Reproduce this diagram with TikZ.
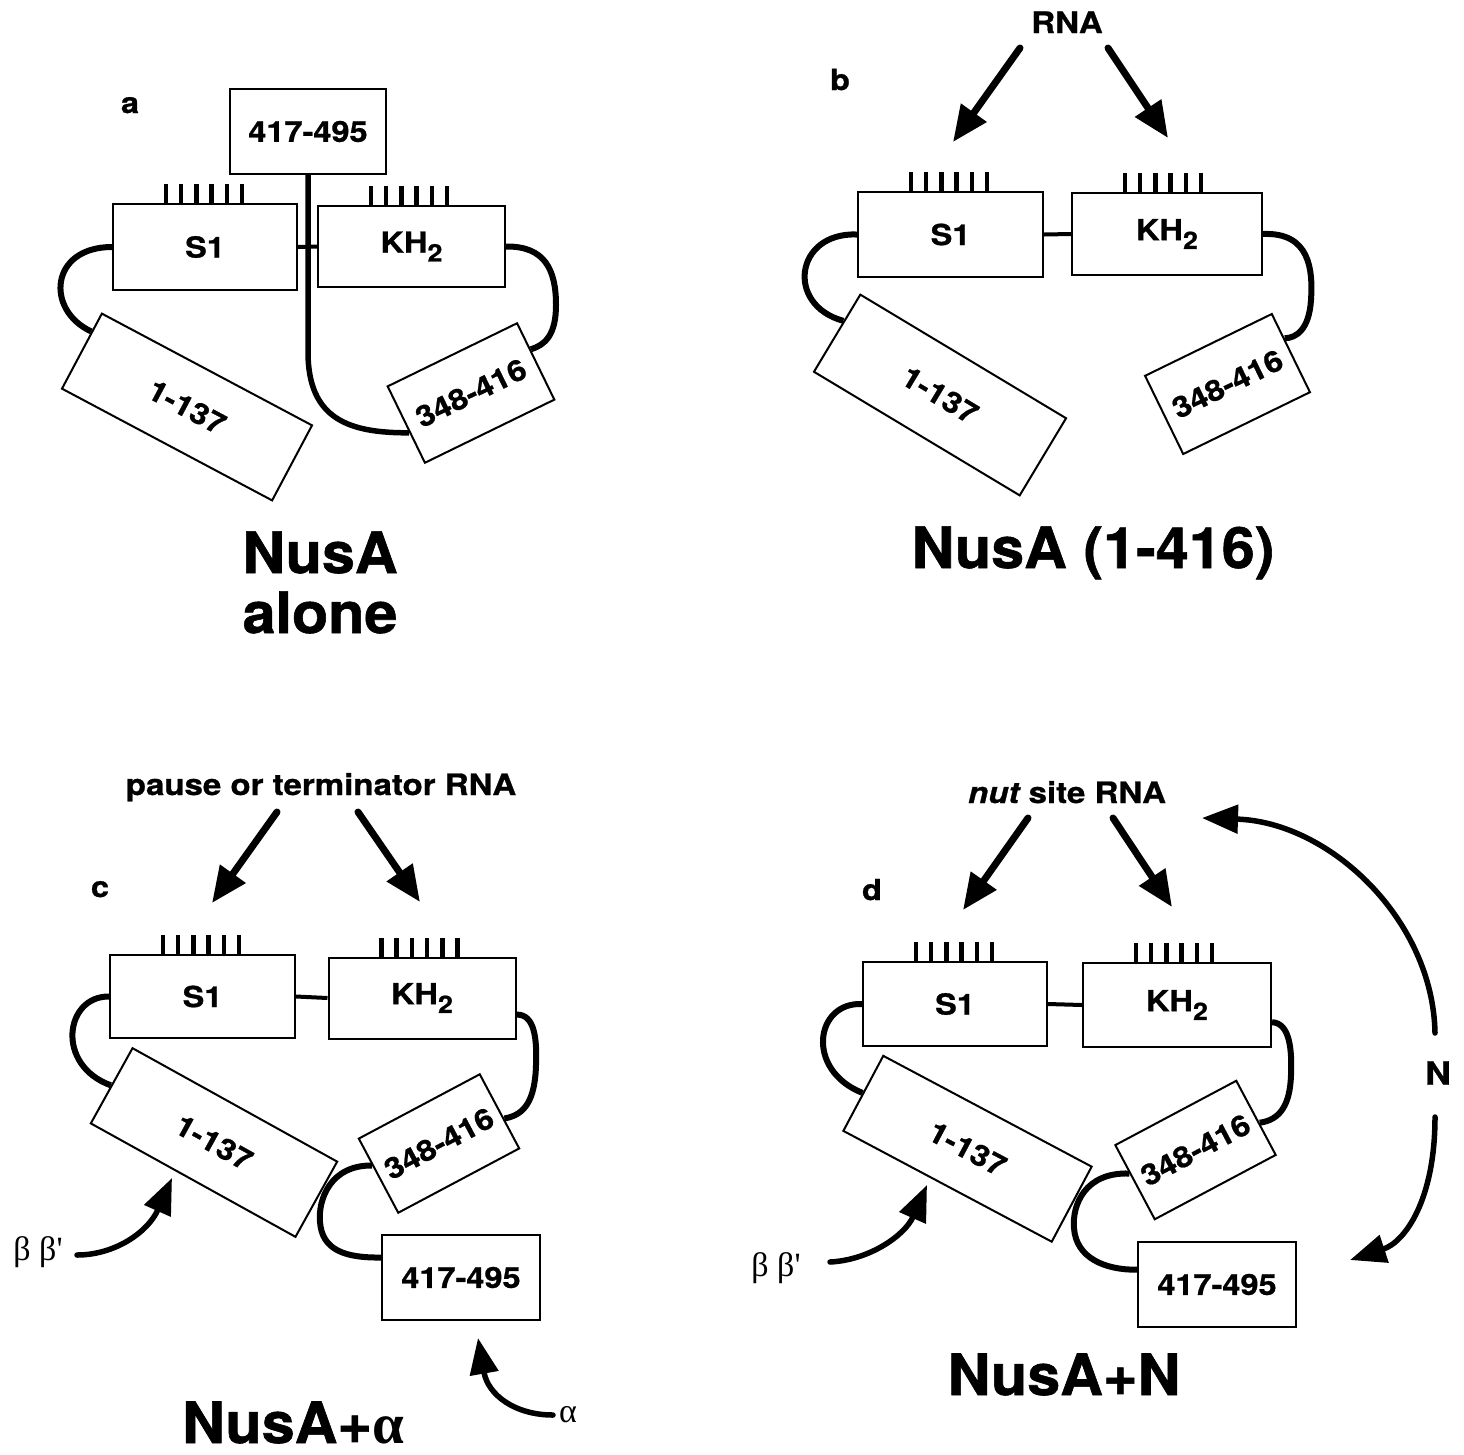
\documentclass[tikz,border=0pt]{standalone}
\usepackage{fontspec}
\setmainfont{TeX Gyre Heros}
\newfontfamily\lblfont[FakeStretch=1.12,FakeBold=0.8]{TeX Gyre Heros}
\newfontfamily\titlefam[FakeStretch=1.04,FakeBold=1.0]{TeX Gyre Heros}
\newfontfamily\grk{Liberation Serif}
\usetikzlibrary{arrows.meta,calc,backgrounds}

\newcommand\boxfont{\lblfont\bfseries\fontsize{29}{31}\selectfont}
\newcommand\topfont{\lblfont\bfseries\fontsize{29.5}{31}\selectfont}
\newcommand\titlefont{\titlefam\bfseries\fontsize{57}{60}\selectfont}
\newcommand\khtext{KH\raisebox{-0.3em}{\fontsize{24}{24}\selectfont 2}}
\newcommand\domticks[1]{\foreach \i in {0,...,5}{\draw[tickline] ([xshift=54pt+\i*15.2pt]#1.north west) -- ++(0,-19);}}

\tikzset{
  dombox/.style={draw, line width=2pt, fill=white, inner sep=0pt, font=\boxfont},
  loopline/.style={line width=6pt},
  stemline/.style={line width=5.5pt},
  tickline/.style={line width=4.5pt},
  linkline/.style={line width=4pt},
  rnaarrow/.style={line width=7pt, line cap=round, -{Triangle[length=36pt,width=30pt]}},
  curvearrow/.style={line width=5.5pt, line cap=round, -{Triangle[length=36pt,width=28pt]}},
  panellabel/.style={font=\boxfont, anchor=base, inner sep=0pt},
  toplabel/.style={font=\topfont, anchor=base, inner sep=0pt},
  titlelabel/.style={font=\titlefont, anchor=base, inner sep=0pt},
  greeklabel/.style={font=\grk\fontsize{34}{36}\selectfont, inner sep=0pt},
}

\begin{document}
\begin{tikzpicture}[x=1pt,y=-1pt]
\useasboundingbox (0,0) rectangle (1464,1454);

% ================= panel a =================
\node[panellabel] (la) at (130,113) {a};
\node[dombox, minimum width=156pt, minimum height=85pt] (aTop) at (308,131.5) {417-495};
\node[dombox, minimum width=184pt, minimum height=86pt] (aS1) at (205,247) {S1};
\node[dombox, minimum width=187pt, minimum height=81pt] (aKH) at (411.5,246.5) {\khtext};
\node[dombox, minimum width=238pt, minimum height=85pt, rotate=-28] (a137) at (187,407) {1-137};
\node[dombox, minimum width=144pt, minimum height=85pt, rotate=26] (a348) at (471,393) {348-416};
\domticks{aS1}
\domticks{aKH}
\coordinate (aL) at ($(a137.north west)!0.25!(a137.south west)$);
\coordinate (aR) at ($(a348.north east)!0.35!(a348.south east)$);
\coordinate (aB) at ($(a348.north west)!0.6!(a348.south west)$);
\begin{pgfonlayer}{background}
\draw[loopline] (aS1.west) .. controls (50,247) and (45,310) .. (aL);
\draw[loopline] (aKH.east) .. controls (545,246) and (556,270) .. (556,305) .. controls (556,335) and (545,345) .. (aR);
\draw[stemline] (aTop.south) -- (308,352) .. controls (308,420) and (350,433) .. (aB);
\draw[linkline] (aS1.east) -- (aKH.west);
\end{pgfonlayer}
\node[titlelabel] (ta1) at (320,573) {NusA};
\node[titlelabel] (ta2) at (320,633) {alone};

% ================= panel b =================
\node[toplabel] (bRNA) at (1067,33) {RNA};
\node[panellabel] (lb) at (840,90) {b};
\node[dombox, minimum width=185pt, minimum height=85pt] (bS1) at (950.5,234.5) {S1};
\node[dombox, minimum width=190pt, minimum height=82pt] (bKH) at (1167,234) {\khtext};
\node[dombox, minimum width=240pt, minimum height=90pt, rotate=-31] (b137) at (940,395) {1-137};
\node[dombox, minimum width=141pt, minimum height=87pt, rotate=26] (b348) at (1227.5,384) {348-416};
\domticks{bS1}
\domticks{bKH}
\coordinate (bL) at ($(b137.north west)!0.35!(b137.south west)$);
\coordinate (bR) at ($(b348.north east)!0.32!(b348.south east)$);
\begin{pgfonlayer}{background}
\draw[loopline] (bS1.west) .. controls (795,232) and (785,305) .. (bL);
\draw[loopline] (bKH.east) .. controls (1310,232) and (1313,270) .. (1311,300) .. controls (1309,330) and (1296,338) .. (bR);
\draw[linkline] (bS1.east) -- (bKH.west);
\end{pgfonlayer}
\coordinate (bT1) at (1020,48); \coordinate (bH1) at (953,142);
\coordinate (bT2) at (1108,48); \coordinate (bH2) at (1168,138);
\draw[rnaarrow] (bT1) -- (bH1);
\draw[rnaarrow] (bT2) -- (bH2);
\node[titlelabel] (tb) at (1093,568) {NusA (1-416)};

% ================= panel c =================
\node[toplabel] (cRNA) at (321,795) {pause or terminator RNA};
\node[panellabel] (lc) at (100,897) {c};
\node[dombox, minimum width=185pt, minimum height=83pt] (cS1) at (202.5,996.5) {S1};
\node[dombox, minimum width=187pt, minimum height=81pt] (cKH) at (422,998) {\khtext};
\node[dombox, minimum width=234pt, minimum height=86pt, rotate=-29] (c137) at (214,1142.5) {1-137};
\node[dombox, minimum width=137pt, minimum height=84pt, rotate=28] (c348) at (439,1143.5) {348-416};
\node[dombox, minimum width=158pt, minimum height=85pt] (c417) at (461,1277.5) {417-495};
\domticks{cS1}
\domticks{cKH}
\coordinate (cR0) at ($(cKH.north east)!0.7!(cKH.south east)$);
\coordinate (cR) at ($(c348.north east)!0.6!(c348.south east)$);
\coordinate (cB0) at ($(c348.north west)!0.36!(c348.south west)$);
\coordinate (cB) at ($(c417.north west)!0.27!(c417.south west)$);
\begin{pgfonlayer}{background}
\draw[loopline] (cS1.west) .. controls (65,996) and (55,1065) .. (c137.west);
\draw[loopline] (cR0) .. controls (535,1014) and (537,1040) .. (536,1065) .. controls (535,1100) and (525,1115) .. (cR);
\draw[loopline] (cB0) .. controls (330,1165) and (318,1200) .. (320,1222) .. controls (322,1250) and (345,1258) .. (cB);
\draw[linkline] (cS1.east) -- (cKH.west);
\end{pgfonlayer}
\coordinate (cT1) at (277,812); \coordinate (cH1) at (212,903);
\coordinate (cT2) at (358,812); \coordinate (cH2) at (420,902);
\draw[rnaarrow] (cT1) -- (cH1);
\draw[rnaarrow] (cT2) -- (cH2);
\node[greeklabel] (cBB) at (38,1252) {β β'};
\coordinate (cBBt) at (77,1255); \coordinate (cBBh) at (172,1178);
\draw[curvearrow] (cBBt) .. controls (115,1255) and (148,1232) .. (cBBh);
\node[greeklabel] (cAl) at (568,1415) {α};
\coordinate (cAlt) at (553,1415); \coordinate (cAlh) at (478,1338);
\draw[curvearrow] (cAlt) .. controls (515,1415) and (488,1395) .. (cAlh);
\node[titlelabel] (tc) at (293,1443) {NusA+{\grk\fontsize{57}{60}\selectfont α}};

% ================= panel d =================
\node[toplabel] (dRNA) at (1067,803) {{\itshape nut} site RNA};
\node[panellabel] (ld) at (872,900) {d};
\node[dombox, minimum width=184pt, minimum height=84pt] (dS1) at (955,1004) {S1};
\node[dombox, minimum width=188pt, minimum height=84pt] (dKH) at (1177,1005) {\khtext};
\node[dombox, minimum width=236pt, minimum height=85pt, rotate=-28] (d137) at (967.5,1148.75) {1-137};
\node[dombox, minimum width=137pt, minimum height=84pt, rotate=28] (d348) at (1195.5,1150) {348-416};
\node[dombox, minimum width=158pt, minimum height=85pt] (d417) at (1217,1284.5) {417-495};
\domticks{dS1}
\domticks{dKH}
\coordinate (dR0) at ($(dKH.north east)!0.7!(dKH.south east)$);
\coordinate (dR) at ($(d348.north east)!0.57!(d348.south east)$);
\coordinate (dB0) at ($(d348.north west)!0.38!(d348.south west)$);
\coordinate (dB) at ($(d417.north west)!0.33!(d417.south west)$);
\begin{pgfonlayer}{background}
\draw[loopline] (dS1.west) .. controls (815,1002) and (805,1070) .. (d137.west);
\draw[loopline] (dR0) .. controls (1290,1023) and (1292,1050) .. (1291,1075) .. controls (1290,1105) and (1280,1120) .. (dR);
\draw[loopline] (dB0) .. controls (1085,1172) and (1072,1205) .. (1074,1228) .. controls (1076,1258) and (1105,1270) .. (dB);
\draw[linkline] (dS1.east) -- (dKH.west);
\end{pgfonlayer}
\coordinate (dT1) at (1028,818); \coordinate (dH1) at (963,910);
\coordinate (dT2) at (1113,818); \coordinate (dH2) at (1172,907);
\draw[rnaarrow] (dT1) -- (dH1);
\draw[rnaarrow] (dT2) -- (dH2);
\node[greeklabel] (dBB) at (776,1268) {β β'};
\coordinate (dBBt) at (830,1262); \coordinate (dBBh) at (927,1185);
\draw[curvearrow] (dBBt) .. controls (870,1260) and (905,1235) .. (dBBh);
\node[font=\lblfont\bfseries\fontsize{32}{34}\selectfont, inner sep=0pt] (dN) at (1438,1073) {N};
\coordinate (dN1t) at (1435,1033); \coordinate (dN1h) at (1202,818);
\draw[curvearrow] (dN1t) .. controls (1433,920) and (1330,822) .. (dN1h);
\coordinate (dN2t) at (1435,1117); \coordinate (dN2h) at (1350,1260);
\draw[curvearrow] (dN2t) .. controls (1435,1200) and (1405,1242) .. (dN2h);
\node[titlelabel] (td) at (1064,1395) {NusA+N};
\end{tikzpicture}
\end{document}
